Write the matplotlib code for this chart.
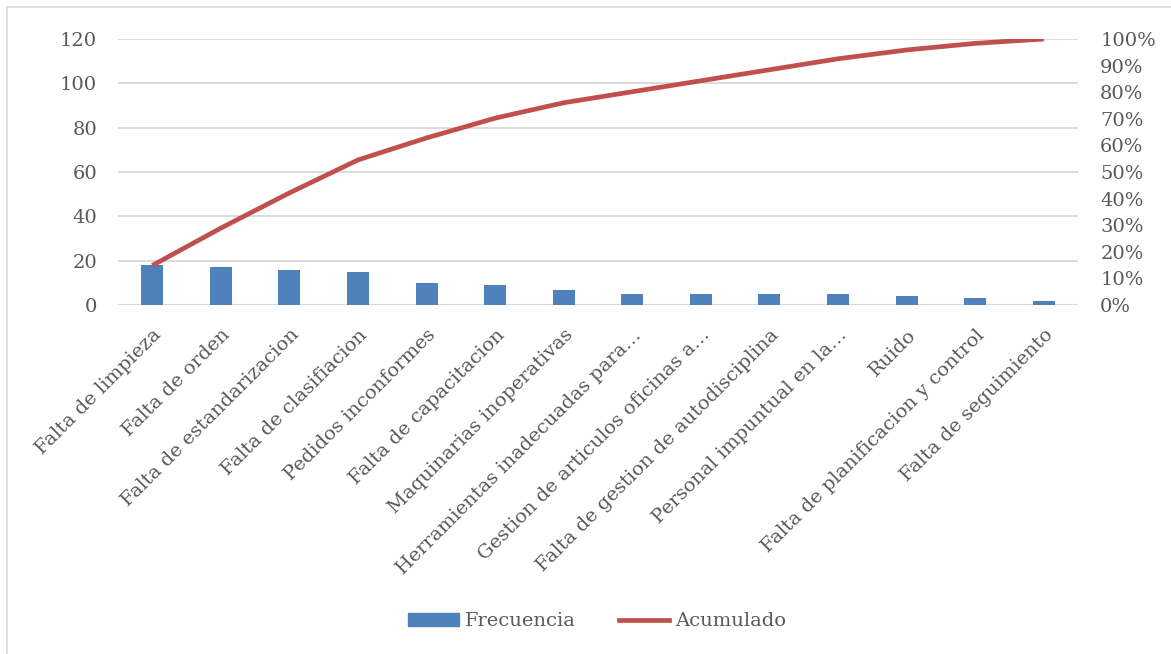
import matplotlib
matplotlib.use("Agg")
import matplotlib.pyplot as plt
from matplotlib.lines import Line2D
from matplotlib.patches import Patch
import numpy as np

categorias = [
    "Falta de limpieza", "Falta de orden", "Falta de estandarizacion",
    "Falta de clasifiacion", "Pedidos inconformes", "Falta de capacitacion",
    "Maquinarias inoperativas", "Herramientas inadecuadas para…",
    "Gestion de articulos oficinas a…", "Falta de gestion de autodisciplina",
    "Personal impuntual en la…", "Ruido", "Falta de planificacion y control",
    "Falta de seguimiento",
]
frecuencia = [18, 17, 16, 15, 10, 9, 7, 5, 5, 5, 5, 4, 3, 2]
acumulado = np.cumsum(frecuencia) / sum(frecuencia)

AZUL = "#4F81BD"
ROJO = "#C0504D"
GRIS = "#595959"
REJILLA = "#D9D9D9"

plt.rcParams.update({"font.family": "DejaVu Serif", "font.size": 14})

fig = plt.figure(figsize=(11.71, 6.54), dpi=100)
ax = fig.add_axes([0.1008, 0.5336, 0.8198, 0.4068])
ax2 = ax.twinx()

x = np.arange(len(categorias))
ax.bar(x, frecuencia, width=0.32, color=AZUL, zorder=2)
ax2.plot(x, acumulado, color=ROJO, lw=3.4, solid_capstyle="butt", zorder=3)

ax.set_xlim(-0.5, len(categorias) - 0.5)
ax.set_ylim(0, 120)
ax.set_yticks(range(0, 121, 20))
ax2.set_ylim(0, 1)
ax2.set_yticks(np.linspace(0, 1, 11))
ax2.set_yticklabels([f"{int(round(v * 100))}%" for v in np.linspace(0, 1, 11)])

ax.grid(axis="y", color=REJILLA, lw=1.3, zorder=0)
ax.set_axisbelow(True)
for a in (ax, ax2):
    for s in a.spines.values():
        s.set_visible(False)
ax.axhline(0, color=REJILLA, lw=1.5, zorder=1)

ax.tick_params(axis="y", length=0, pad=15, colors=GRIS, labelsize=14)
ax2.tick_params(axis="y", length=0, pad=16, colors=GRIS, labelsize=14)
ax.set_xticks(x)
ax.set_xticklabels(categorias, rotation=45, ha="right", va="top",
                   rotation_mode="anchor", color=GRIS, fontsize=14)
ax.tick_params(axis="x", length=0, pad=15)

# borde del gráfico
fig.add_artist(Line2D([7 / 1171, 7 / 1171], [0, 1 - 7 / 654], color=REJILLA, lw=1.2))
fig.add_artist(Line2D([7 / 1171, 1], [1 - 7 / 654, 1 - 7 / 654], color=REJILLA, lw=1.2))

handles = [Patch(color=AZUL, label="Frecuencia"),
           Line2D([], [], color=ROJO, lw=3.4, label="Acumulado")]
leg = fig.legend(handles=handles, loc="center", bbox_to_anchor=(0.51, 0.05),
                 ncol=2, frameon=False, handlelength=2.6, handleheight=0.6,
                 columnspacing=2.2, handletextpad=0.3, fontsize=14)
for t in leg.get_texts():
    t.set_color(GRIS)

fig.savefig("out.png", dpi=100)
